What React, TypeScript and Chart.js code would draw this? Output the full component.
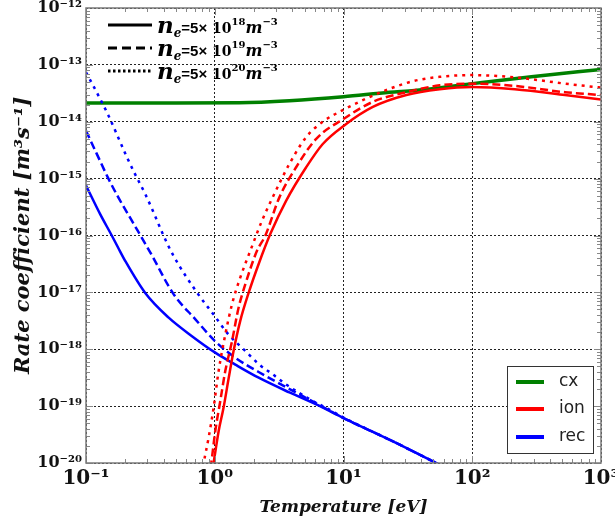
import React, { useEffect, useRef } from 'react';
import { Chart, registerables } from 'chart.js';
Chart.register(...registerables);

// ---- axis ticks ----
const X_TICKS = [0.1, 1, 10, 100, 1000];
const X_TICK_LABELS = ['10⁻¹', '10⁰', '10¹', '10²', '10³'];
const Y_TICKS = [1e-20, 1e-19, 1e-18, 1e-17, 1e-16, 1e-15, 1e-14, 1e-13, 1e-12];
const Y_TICK_LABELS = ['10⁻²⁰', '10⁻¹⁹', '10⁻¹⁸', '10⁻¹⁷', '10⁻¹⁶', '10⁻¹⁵', '10⁻¹⁴', '10⁻¹³', '10⁻¹²'];

// ---- charge exchange ----
const CX_T = [0.1, 0.5, 1.55, 3.8, 10, 22.8, 35.7, 100, 288, 1000];
const CX_K = [2.14e-14, 2.14e-14, 2.16e-14, 2.34e-14, 2.75e-14, 3.31e-14, 3.55e-14, 4.68e-14, 6.17e-14, 8.32e-14];

// ---- ionisation: n_e = 5e18, 5e19, 5e20 ----
const ION1_T = [0.933, 0.9795, 1.072, 1.17, 1.28, 1.4, 1.578, 1.832, 2.193, 2.704, 3.581, 5.129, 6.902, 10.19, 16.9, 30.76, 55.85, 100, 213.8, 524.8, 1000];
const ION1_K = [5e-21, 1e-20, 3.63e-20, 9.33e-20, 3.02e-19, 9.33e-19, 3.16e-18, 9.77e-18, 3.16e-17, 1.07e-16, 4.07e-16, 1.585e-15, 4.07e-15, 8.71e-15, 1.82e-14, 2.95e-14, 3.72e-14, 4.07e-14, 3.72e-14, 2.95e-14, 2.45e-14];
const ION2_T = [0.891, 0.9397, 1.009, 1.104, 1.208, 1.361, 1.531, 1.726, 2.128, 2.472, 3.177, 4.285, 6.138, 10, 16.9, 30.76, 55.85, 100, 213.8, 524.8, 1000];
const ION2_K = [5e-21, 1e-20, 3.63e-20, 1.23e-19, 4.17e-19, 1.38e-18, 5.37e-18, 1.38e-17, 5.37e-17, 1e-16, 4.68e-16, 1.585e-15, 5.01e-15, 1.12e-14, 2.24e-14, 3.31e-14, 4.37e-14, 4.68e-14, 4.27e-14, 3.31e-14, 2.95e-14];
const ION3_T = [0.794, 0.82, 0.843, 0.895, 0.9795, 1.072, 1.208, 1.361, 1.578, 1.888, 2.328, 2.818, 3.802, 5.129, 6.902, 10.19, 14.13, 22.8, 35.73, 55.85, 100, 213.8, 524.8, 1000];
const ION3_K = [6.3e-21, 1e-20, 1.38e-20, 2.75e-20, 9.33e-20, 4.17e-19, 1.82e-18, 6.17e-18, 1.82e-17, 5.37e-17, 1.82e-16, 4.68e-16, 1.82e-15, 5.37e-15, 1e-14, 1.66e-14, 2.4e-14, 3.8e-14, 5.25e-14, 6.17e-14, 6.61e-14, 6.03e-14, 4.68e-14, 3.98e-14];

// ---- recombination: n_e = 5e18, 5e19, 5e20 ----
const REC1_T = [0.1, 0.1285, 0.1585, 0.1782, 0.2009, 0.2884, 0.4365, 0.6653, 1.009, 1.445, 2.193, 3.802, 6.138, 10, 24.21, 52.48, 100];
const REC1_K = [7.59e-16, 2.4e-16, 1e-16, 6.03e-17, 3.63e-17, 9.77e-18, 3.63e-18, 1.7e-18, 8.71e-19, 5.37e-19, 3.16e-19, 1.74e-19, 1.07e-19, 6.17e-20, 2.4e-20, 1e-20, 4.79e-21];
const REC2_T = [0.1, 0.121, 0.1493, 0.1782, 0.227, 0.2793, 0.3162, 0.4786, 0.7047, 1.009, 1.445, 2.193, 3.54, 6.138, 10, 24.21, 52.48, 100];
const REC2_K = [6.92e-15, 2.75e-15, 1e-15, 4.68e-16, 1.82e-16, 8.13e-17, 5.01e-17, 9.33e-18, 3.39e-18, 1.38e-18, 7.08e-19, 3.98e-19, 2.19e-19, 1.12e-19, 6.17e-20, 2.4e-20, 1e-20, 4.79e-21];
const REC3_T = [0.1, 0.121, 0.1493, 0.1782, 0.2075, 0.2404, 0.2884, 0.3342, 0.3999, 0.4786, 0.7261, 0.9795, 1.279, 1.726, 2.218, 2.818, 3.581, 4.55, 5.768, 7.328, 10, 24.21, 52.48, 100];
const REC3_K = [7.41e-14, 3.31e-14, 1.29e-14, 5.25e-15, 2.4e-15, 1.2e-15, 5.37e-16, 2.57e-16, 1e-16, 4.37e-17, 1e-17, 4.07e-18, 1.82e-18, 9.33e-19, 5.37e-19, 3.63e-19, 2.4e-19, 1.7e-19, 1.23e-19, 9.33e-20, 6.31e-20, 2.4e-20, 1e-20, 4.79e-21];

const DENSITY_EXP = ['18', '19', '20'];
const SPECIES = ['cx', 'ion', 'rec'];

const GREEN = '#008000';
const RED = '#ff0000';
const BLUE = '#0000ff';
const DASHES = [[], [8, 4], [3, 5]];

const pts = (t: number[], k: number[]) => t.map((x, i) => ({ x, y: k[i] }));

function ds(t: number[], k: number[], color: string, dashIdx: number, width: number) {
  return {
    data: pts(t, k),
    borderColor: color,
    borderWidth: width,
    borderDash: DASHES[dashIdx],
    pointRadius: 0,
    cubicInterpolationMode: 'monotone' as const,
    fill: false,
  };
}

function drawRich(ctx: CanvasRenderingContext2D, x: number, y: number, parts: { t: string; f: string; dy?: number }[]) {
  let cx = x;
  for (const p of parts) {
    ctx.font = p.f;
    ctx.fillText(p.t, cx, y + (p.dy || 0));
    cx += ctx.measureText(p.t).width;
  }
}

const decorPlugin = {
  id: 'decor',
  afterDraw(chart: any) {
    const { ctx, chartArea: a, scales } = chart;
    const xs = scales.x, ys = scales.y;
    ctx.save();
    // minor / major ticks pointing inward
    ctx.strokeStyle = '#888';
    ctx.lineWidth = 1;
    ctx.beginPath();
    for (let d = -1; d < 3; d++) {
      for (let m = 1; m < 10; m++) {
        const px = Math.round(xs.getPixelForValue(m * Math.pow(10, d))) + 0.5;
        const len = m === 1 ? 7 : 4;
        ctx.moveTo(px, a.bottom); ctx.lineTo(px, a.bottom - len);
        ctx.moveTo(px, a.top); ctx.lineTo(px, a.top + len);
      }
    }
    for (let d = -20; d < -12; d++) {
      for (let m = 1; m < 10; m++) {
        const py = Math.round(ys.getPixelForValue(m * Math.pow(10, d))) + 0.5;
        const len = m === 1 ? 7 : 4;
        ctx.moveTo(a.left, py); ctx.lineTo(a.left + len, py);
        ctx.moveTo(a.right, py); ctx.lineTo(a.right - len, py);
      }
    }
    ctx.stroke();
    // frame
    ctx.strokeStyle = '#7a7a7a';
    ctx.lineWidth = 1.5;
    ctx.strokeRect(a.left, a.top, a.right - a.left, a.bottom - a.top);

    // density legend (top-left)
    ctx.fillStyle = '#000';
    ctx.strokeStyle = '#000';
    ctx.textBaseline = 'alphabetic';
    ctx.textAlign = 'left';
    const rowsY = [25, 48, 71];
    rowsY.forEach((ry, i) => {
      ctx.lineWidth = 3;
      ctx.setLineDash(i === 0 ? [] : i === 1 ? [9, 5] : [2.5, 2.5]);
      ctx.beginPath();
      ctx.moveTo(108, ry); ctx.lineTo(152, ry);
      ctx.stroke();
      ctx.setLineDash([]);
      drawRich(ctx, 157, ry + 8, [
        { t: 'n', f: 'italic bold 23px "DejaVu Serif"' },
        { t: 'e', f: 'italic bold 12px "DejaVu Serif"', dy: 4 },
        { t: '=5×', f: 'bold 15px "Liberation Sans"' },
        { t: ' 10', f: 'bold 14px "DejaVu Serif"' },
        { t: DENSITY_EXP[i], f: 'bold 10px "DejaVu Serif"', dy: -8 },
        { t: 'm', f: 'italic bold 16px "DejaVu Serif"' },
        { t: '−3', f: 'bold 10px "DejaVu Serif"', dy: -8 },
      ]);
    });

    // species legend (bottom-right)
    ctx.fillStyle = '#fff';
    ctx.fillRect(507, 366, 86, 87);
    ctx.strokeStyle = '#333';
    ctx.lineWidth = 1;
    ctx.strokeRect(507.5, 366.5, 86, 87);
    const cols = [GREEN, RED, BLUE];
    const ly = [382, 409, 437];
    SPECIES.forEach((s, i) => {
      ctx.strokeStyle = cols[i];
      ctx.lineWidth = 4;
      ctx.beginPath();
      ctx.moveTo(516, ly[i]); ctx.lineTo(544, ly[i]);
      ctx.stroke();
      ctx.fillStyle = '#222';
      ctx.font = '17px "DejaVu Sans"';
      ctx.textBaseline = 'middle';
      ctx.fillText(s, 559, ly[i]);
    });
    ctx.restore();
  },
};

export default function App() {
  const ref = useRef<HTMLCanvasElement>(null);
  useEffect(() => {
    if (!ref.current) return;
    const chart = new Chart(ref.current, {
      type: 'line',
      data: {
        datasets: [
          ds(ION1_T, ION1_K, RED, 0, 2.5),
          ds(ION2_T, ION2_K, RED, 1, 2.5),
          ds(ION3_T, ION3_K, RED, 2, 2.5),
          ds(REC1_T, REC1_K, BLUE, 0, 2.5),
          ds(REC2_T, REC2_K, BLUE, 1, 2.5),
          ds(REC3_T, REC3_K, BLUE, 2, 2.5),
          ds(CX_T, CX_K, GREEN, 0, 3.5),
        ] as any,
      },
      options: {
        animation: false,
        responsive: true,
        maintainAspectRatio: false,
        layout: { padding: { left: 0, right: 14, top: 8, bottom: 0 } },
        plugins: { legend: { display: false }, tooltip: { enabled: false } },
        scales: {
          x: {
            type: 'logarithmic',
            min: 0.1,
            max: 1000,
            afterBuildTicks: (s: any) => { s.ticks = X_TICKS.map((v) => ({ value: v })); },
            afterFit: (s: any) => { s.height = 62; s.paddingLeft = 0; s.paddingRight = 0; },
            ticks: {
              autoSkip: false,
              maxRotation: 0,
              padding: 4,
              color: '#111',
              font: { family: '"DejaVu Serif"', weight: 'bold', size: 20 },
              callback: (v: any, i: number) => X_TICK_LABELS[i],
            },
            grid: { color: '#222', lineWidth: 1, drawTicks: false },
            border: { display: false, dash: [2, 2] },
            title: {
              display: true,
              text: 'Temperature [eV]',
              color: '#111',
              font: { family: '"DejaVu Serif"', weight: 'bold', style: 'italic', size: 17 },
              padding: { top: 0, bottom: 7 },
            },
          },
          y: {
            type: 'logarithmic',
            min: 1e-20,
            max: 1e-12,
            afterBuildTicks: (s: any) => { s.ticks = Y_TICKS.map((v) => ({ value: v })); },
            afterFit: (s: any) => { s.width = 86; s.paddingTop = 0; s.paddingBottom = 0; },
            ticks: {
              autoSkip: false,
              padding: 4,
              color: '#111',
              font: { family: '"DejaVu Serif"', weight: 'bold', size: 16 },
              callback: (v: any, i: number) => Y_TICK_LABELS[i],
            },
            grid: { color: '#222', lineWidth: 1, drawTicks: false },
            border: { display: false, dash: [2, 2] },
            title: {
              display: true,
              text: 'Rate coefficient [m³s⁻¹]',
              color: '#111',
              font: { family: '"DejaVu Serif"', weight: 'bold', style: 'italic', size: 21 },
              padding: { top: 11, bottom: 0 },
            },
          },
        },
      } as any,
      plugins: [decorPlugin],
    });
    return () => chart.destroy();
  }, []);
  return (
    <div style={{ position: 'fixed', left: 0, top: 0, width: 615, height: 525, background: '#fff' }}>
      <canvas ref={ref} />
    </div>
  );
}
